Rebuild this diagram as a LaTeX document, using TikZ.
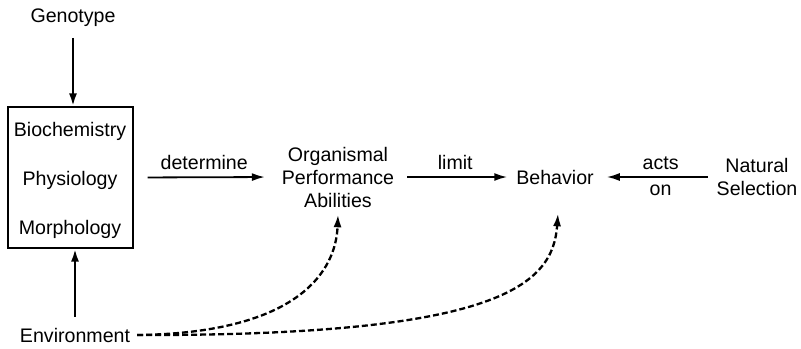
\documentclass[tikz,border=0pt]{standalone}
\usepackage{fontspec}
\setmainfont{Liberation Sans}
\usetikzlibrary{shapes,arrows,arrows.meta,positioning}
\tikzstyle{txt} = [font=\fontsize{9.8}{11.5}\selectfont, align=center]
\tikzstyle{solid arrow} = [->, line width=0.9pt]
\tikzstyle{dash arrow} = [->, line width=1.15pt, dash pattern=on 3pt off 1.5pt]

\begin{document}
\begin{tikzpicture}[x=0.5pt,y=-0.5pt,>={Latex[length=6.5pt,width=4pt]},auto,node distance=24.5pt]
\useasboundingbox (0,0) rectangle (801,348);

\node[txt] (geno) at (73,18) {Genotype};
\node[draw, line width=0.6pt, minimum width=62.5pt, minimum height=70.5pt] (box) at (70.5,177.5) {};
\node[txt] (bio) at (70,131) {Biochemistry};
\node[txt, below of = bio] (phys) {Physiology};
\node[txt, below of = phys] (morph) {Morphology};
\node[txt] (env) at (75,335) {Environment};
\node[txt] (opa) at (338,177) {Organismal\\Performance\\Abilities};
\node[txt] (beh) at (555,177) {Behavior};
\node[txt] (nat) at (757,177) {Natural\\Selection};
\coordinate[below=11pt of beh.south, xshift=1.5pt] (behin);

\path
(geno) edge [solid arrow, line width=1.25pt, shorten <=2pt] (geno.south |- box.north)
(env) edge [solid arrow, line width=1.25pt, shorten <=2pt] (env.north |- box.south)
(box.east) edge [solid arrow, shorten <=7pt, shorten >=5pt] node [txt, above] {determine} (opa.west)
(opa.east) edge [solid arrow, shorten <=3pt, shorten >=1pt] node [txt, above] {limit} (beh.west)
(nat.west) edge [solid arrow, shorten <=1pt, shorten >=3pt] node [txt, above, pos=0.45] {acts} node [txt, below, pos=0.45] {on} (beh.east);

\draw[dash arrow] (env.east) .. controls (300,333) and (336,270) .. (opa.south);
\draw[dash arrow] (env.east) .. controls (500,336) and (553,285) .. (behin);
\end{tikzpicture}
\end{document}
